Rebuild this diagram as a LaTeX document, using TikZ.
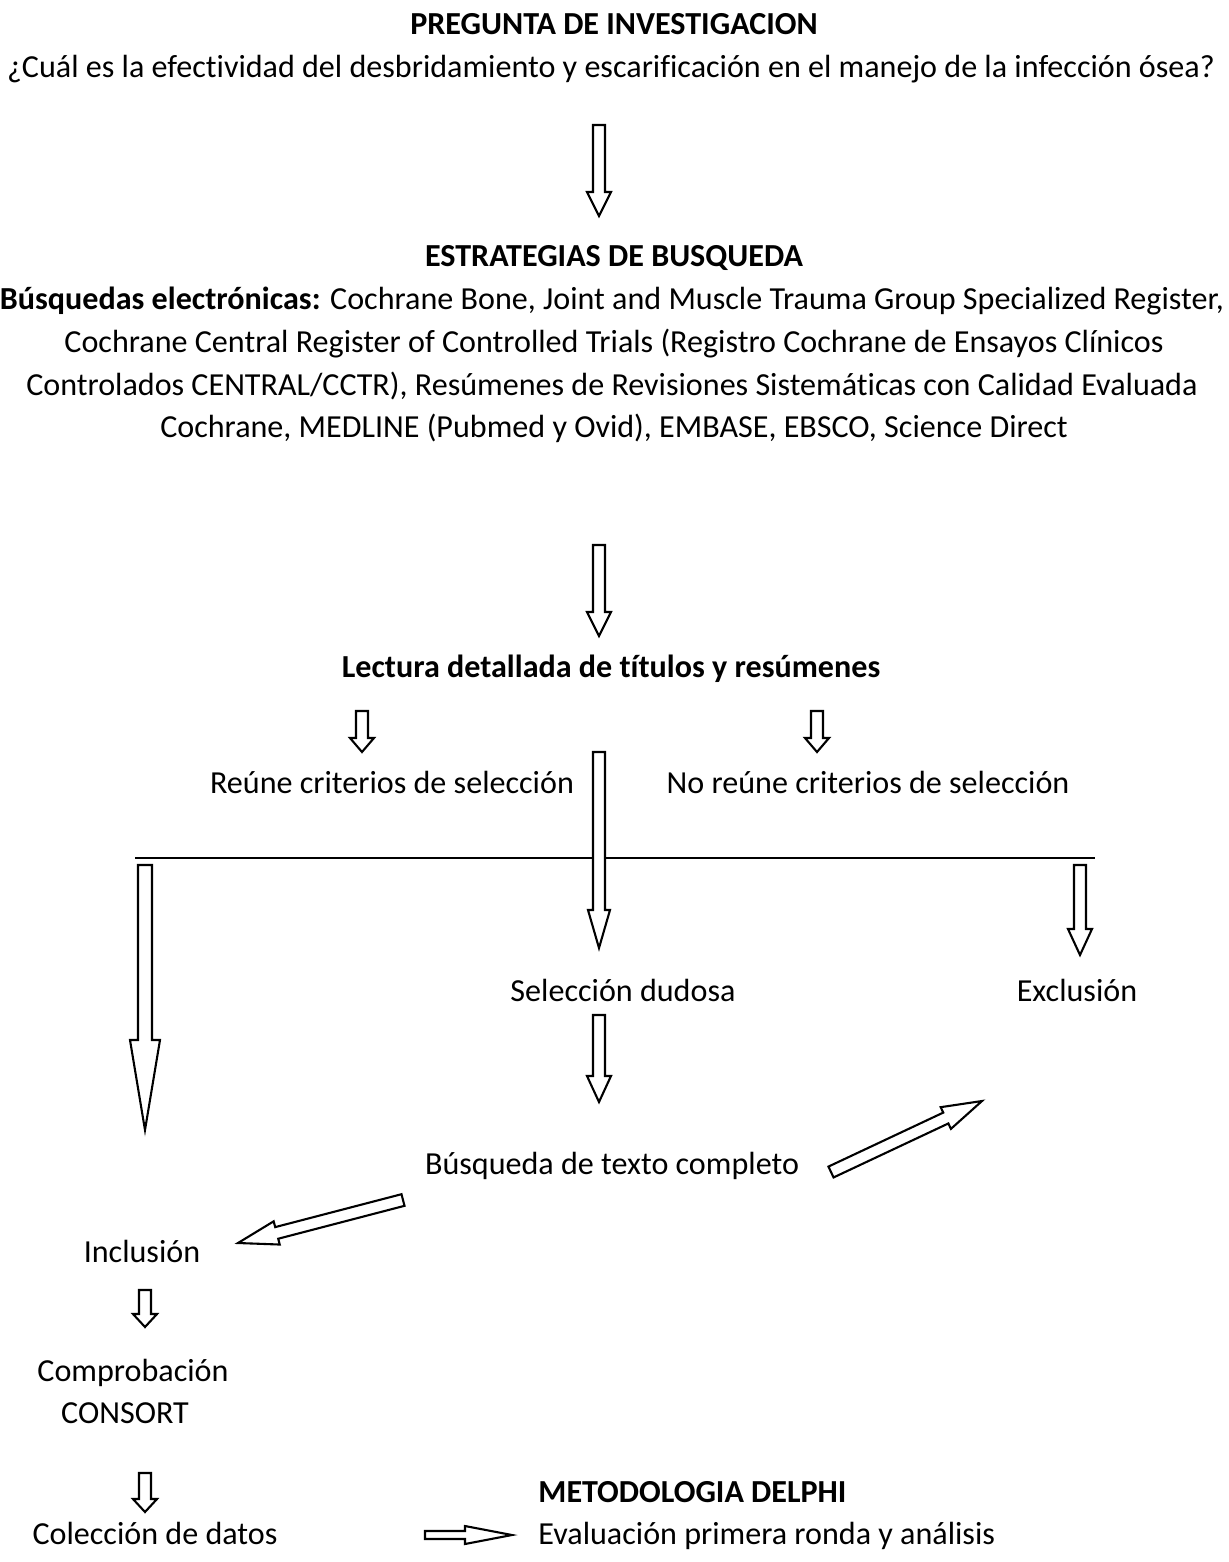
\documentclass[tikz,border=0pt]{standalone}
\usepackage{fontspec}
\setmainfont{Carlito}[Ligatures={NoCommon,NoContextual}]
\usepackage{tikz}
\usetikzlibrary{calc}

\def\pxu{0.43pt}
\tikzset{
	txt/.style={anchor=base, inner sep=0pt, font=\fontsize{13.8}{16}\selectfont},
	hd/.style={txt, font=\fontsize{13.8}{16}\selectfont\bfseries},
	blk/.style={draw=black, line width=0.9pt, fill=white, line join=miter},
}
\newcommand{\blockarrow}[5]{%
	\coordinate (hb) at ($(#2)!#5*\pxu!(#1)$);
	\draw[blk] ($(#1)!#3*\pxu!90:(#2)$) -- ($(hb)!#3*\pxu!-90:(#1)$) -- ($(hb)!#4*\pxu!-90:(#1)$) -- (#2)
	-- ($(hb)!#4*\pxu!90:(#1)$) -- ($(hb)!#3*\pxu!90:(#1)$) -- ($(#1)!#3*\pxu!-90:(#2)$) -- cycle;}

\begin{document}
\begin{tikzpicture}[x=\pxu, y=-\pxu]
	\useasboundingbox (0,0) rectangle (1228,1562);
	\node[hd] (preg) at (614,34) {PREGUNTA DE INVESTIGACION};
	\node[txt] (cual) at (611,77) {¿Cuál es la efectividad del desbridamiento y escarificación en el manejo de la infección ósea?};
	\node[hd] (estr) at (614,266) {ESTRATEGIAS DE BUSQUEDA};
	\node[txt] (bus1) at (612,309) {\textbf{Búsquedas electrónicas:} Cochrane Bone, Joint and Muscle Trauma Group Specialized Register,};
	\node[txt] (bus2) at (614,352) {Cochrane Central Register of Controlled Trials (Registro Cochrane de Ensayos Clínicos};
	\node[txt] (bus3) at (612,395) {Controlados CENTRAL/CCTR), Resúmenes de Revisiones Sistemáticas con Calidad Evaluada};
	\node[txt] (bus4) at (614,437) {Cochrane, MEDLINE (Pubmed y Ovid), EMBASE, EBSCO, Science Direct};
	\node[hd] (lect) at (611,677) {Lectura detallada de títulos y resúmenes};
	\node[txt] (reune) at (392,793) {Reúne criterios de selección};
	\node[txt] (noreune) at (868,793) {No reúne criterios de selección};
	\node[txt] (dudosa) at (623,1001) {Selección dudosa};
	\node[txt] (exclu) at (1077,1001) {Exclusión};
	\node[txt] (texto) at (612,1174) {Búsqueda de texto completo};
	\node[txt] (inclu) at (142,1262) {Inclusión};
	\node[txt] (compr) at (133,1381) {Comprobación};
	\node[txt] (consort) at (125,1423) {CONSORT};
	\node[hd, anchor=base west] (delphi) at (538,1502) {METODOLOGIA DELPHI};
	\node[txt] (datos) at (155,1544) {Colección de datos};
	\node[txt, anchor=base west] (ronda) at (538,1544) {Evaluación primera ronda y análisis};

	\coordinate (ra) at (135,858);
	\coordinate (rb) at (1095,858);
	\draw[line width=1pt] (ra) -- (rb);

	\coordinate (a1s) at (599,125);  \coordinate (a1e) at (599,216);
	\coordinate (a2s) at (599,545);  \coordinate (a2e) at (599,636);
	\coordinate (a3s) at (362,711);  \coordinate (a3e) at (362,752);
	\coordinate (a4s) at (817,711);  \coordinate (a4e) at (817,752);
	\coordinate (a5s) at (599,752);  \coordinate (a5e) at (599,948);
	\coordinate (a6s) at (1080,865); \coordinate (a6e) at (1080,955);
	\coordinate (a7s) at (145,865);  \coordinate (a7e) at (145,1130);
	\coordinate (a8s) at (599,1015); \coordinate (a8e) at (599,1102);
	\coordinate (a9s) at (831,1172); \coordinate (a9e) at (982,1101);
	\coordinate (a10s) at (403,1200); \coordinate (a10e) at (238,1243);
	\coordinate (a11s) at (145,1290); \coordinate (a11e) at (145,1327);
	\coordinate (a12s) at (145,1473); \coordinate (a12e) at (145,1512);
	\coordinate (a13s) at (425,1535); \coordinate (a13e) at (512,1535);

	\blockarrow{a1s}{a1e}{6}{12}{24}
	\blockarrow{a2s}{a2e}{6}{12}{24}
	\blockarrow{a3s}{a3e}{6}{12}{14}
	\blockarrow{a4s}{a4e}{6}{12}{14}
	\blockarrow{a5s}{a5e}{6}{11}{38}
	\blockarrow{a6s}{a6e}{6}{12}{26}
	\blockarrow{a7s}{a7e}{7}{15}{90}
	\blockarrow{a8s}{a8e}{6}{12}{26}
	\blockarrow{a9s}{a9e}{6}{12}{40}
	\blockarrow{a10s}{a10e}{6}{12}{40}
	\blockarrow{a11s}{a11e}{6}{12}{13}
	\blockarrow{a12s}{a12e}{6}{12}{13}
	\blockarrow{a13s}{a13e}{4}{9}{47}
\end{tikzpicture}
\end{document}
